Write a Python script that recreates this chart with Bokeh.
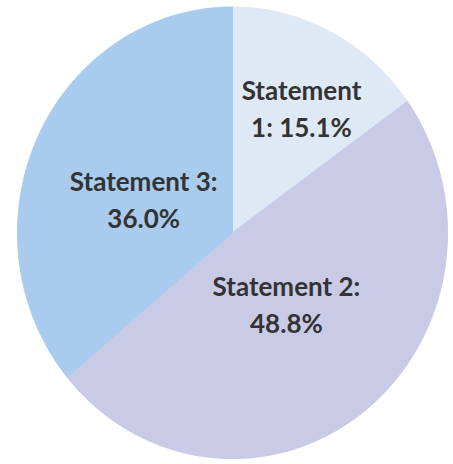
import numpy as np
from bokeh.plotting import figure
from bokeh.models import ColumnDataSource, Range1d
from bokeh.core.properties import value
from bokeh.embed import file_html
from bokeh.resources import INLINE

# ---- data ----
categories = ["Statement 1", "Statement 2", "Statement 3"]
percentages = [15.1, 48.8, 36.0]
colors = ["#DEE9F5", "#C9CAE6", "#A9CBED"]

# ---- layout / style ----
W, H = 453, 464
CX_PX, CY_PX = 232, 232.3      # pie centre in canvas pixels (from top-left)
RX_PX, RY_PX = 215, 225.8      # pie radii in pixels (slightly elliptical)
label_r = [0.636, 0.404, 0.439]          # label distance (fraction of radius)
label_dtheta = [3.1, -0.7, -5.4]         # label angle tweak (degrees)
wrap_words = [1, 2, 2]                   # words on first label line
FONT = "Lato"
FONT_SIZE = "26px"
TEXT_COLOR = "#333333"
LINE_GAP = 18.5

x_range = Range1d(-CX_PX / RX_PX, (W - CX_PX) / RX_PX)
y_range = Range1d(-(H - CY_PX) / RY_PX, CY_PX / RY_PX)

p = figure(width=W, height=H, x_range=x_range, y_range=y_range,
           output_backend="svg", toolbar_location=None,
           x_axis_type=None, y_axis_type=None, min_border=0)
p.grid.visible = False
p.outline_line_color = None
p.background_fill_color = "white"
p.border_fill_color = "white"

total = sum(percentages)
fracs = np.array(percentages) / total
ends = np.cumsum(fracs)
starts = ends - fracs

xs, ys = [], []
for s, e in zip(starts, ends):
    t = np.linspace(s, e, 300) * 2 * np.pi   # clockwise from top
    xs.append(np.concatenate([[0.0], np.sin(t), [0.0]]))
    ys.append(np.concatenate([[0.0], np.cos(t), [0.0]]))

src = ColumnDataSource(dict(xs=xs, ys=ys, color=colors, cat=categories))
p.patches("xs", "ys", source=src, fill_color="color", line_color="color",
          line_width=1)

# labels
lx, ly, line1, line2 = [], [], [], []
for i, (cat, pct) in enumerate(zip(categories, percentages)):
    mid = (starts[i] + ends[i]) / 2 * 360 + label_dtheta[i]
    a = np.deg2rad(mid)
    lx.append(label_r[i] * np.sin(a))
    ly.append(label_r[i] * np.cos(a))
    words = f"{cat}: {pct:.1f}%".split(" ")
    line1.append(" ".join(words[:wrap_words[i]]))
    line2.append(" ".join(words[wrap_words[i]:]))

lsrc = ColumnDataSource(dict(x=lx, y=ly, l1=line1, l2=line2))
for col, off in (("l1", -LINE_GAP), ("l2", LINE_GAP)):
    p.text("x", "y", text=col, source=lsrc, y_offset=off,
           text_font=value(FONT), text_font_size=FONT_SIZE,
           text_font_style="bold", text_color=TEXT_COLOR,
           text_align="center", text_baseline="middle")

open("out.html", "w").write(file_html(p, INLINE))
